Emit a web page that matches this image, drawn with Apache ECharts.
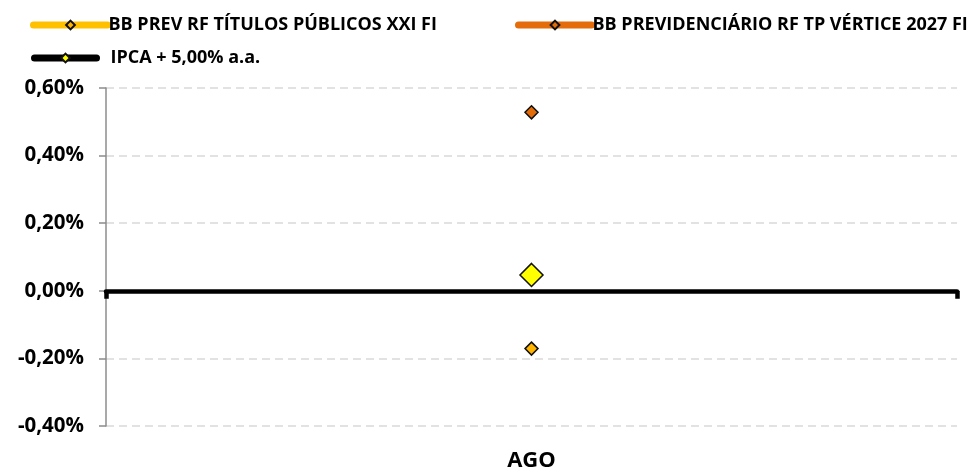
<!DOCTYPE html>
<html><head><meta charset="utf-8">
<script src="https://cdn.jsdelivr.net/npm/echarts@6/dist/echarts.min.js"></script>
<style>html,body{margin:0;padding:0;background:#fff}#c{width:976px;height:472px}</style>
</head><body><div id="c"></div>
<script>
const categories = ['AGO'];
const seriesNames = ['BB PREV RF TÍTULOS PÚBLICOS XXI FI', 'BB PREVIDENCIÁRIO RF TP VÉRTICE 2027 FI', 'IPCA + 5,00% a.a.'];
const fundXXI = [-0.171];
const fund2027 = [0.528];
const ipca = [0.047];
const yTicks = [-0.4, -0.2, 0, 0.2, 0.4, 0.6];

const FONT = '"Open Sans", "Noto Sans", sans-serif';
const chart = echarts.init(document.getElementById('c'));
function legendAt(name, left, top, w, padLeft) {
  return {
    data: [name], left: left, top: top, padding: 0, itemWidth: w, itemHeight: 11, itemGap: 0,
    selectedMode: false,
    textStyle: { fontFamily: FONT, fontWeight: 'bold', fontSize: 18, color: '#000', padding: [0, 0, 0, padLeft] },
    lineStyle: { width: 7, cap: 'round' }
  };
}
chart.setOption({
  animation: false,
  legend: [
    legendAt(seriesNames[0], 30, 16, 74, -4),
    legendAt(seriesNames[1], 515, 16, 73, -4),
    legendAt(seriesNames[2], 31, 49, 62, 9)
  ],
  grid: { left: 106, right: 19, top: 88, bottom: 45 },
  xAxis: [{
    type: 'category', data: categories, boundaryGap: true,
    axisLine: { show: true, onZero: true, lineStyle: { color: '#000', width: 4.5 } },
    axisTick: { show: true, length: 8, lineStyle: { color: '#000', width: 4.5 } },
    axisLabel: { show: false }, splitLine: { show: false }, z: 1
  }, {
    type: 'category', data: categories, position: 'bottom',
    axisLine: { show: false, onZero: false }, axisTick: { show: false },
    axisLabel: { show: true, margin: 24, fontFamily: FONT, fontWeight: 'bold', fontSize: 22, color: '#000' }
  }],
  yAxis: {
    type: 'value', min: yTicks[0], max: yTicks[yTicks.length - 1], interval: 0.2,
    axisLine: { show: true, lineStyle: { color: '#8c8c8c', width: 1.5 } },
    axisTick: { show: true, length: 7, lineStyle: { color: '#8c8c8c', width: 1.5 } },
    axisLabel: {
      margin: 22, fontFamily: FONT, fontWeight: 'bold', fontSize: 20.5, color: '#000',
      formatter: v => v.toFixed(2).replace('.', ',') + '%'
    },
    splitLine: { show: true, lineStyle: { color: '#d9d9d9', width: 1.5, type: [8, 5] } }
  },
  series: [{
    name: seriesNames[0], type: 'line', data: fundXXI, symbol: 'diamond', symbolSize: 13,
    lineStyle: { color: '#FFC000', width: 7 },
    itemStyle: { color: '#FFB400', borderColor: '#111', borderWidth: 1.5 }, z: 3
  }, {
    name: seriesNames[1], type: 'line', data: fund2027, symbol: 'diamond', symbolSize: 13,
    lineStyle: { color: '#E46C0A', width: 7 },
    itemStyle: { color: '#E36C09', borderColor: '#111', borderWidth: 1.5 }, z: 3
  }, {
    name: seriesNames[2], type: 'line', data: ipca, symbol: 'diamond', symbolSize: 23,
    lineStyle: { color: '#000', width: 7 },
    itemStyle: { color: '#FFFF00', borderColor: '#111', borderWidth: 1.5 }, z: 4
  }]
});
</script></body></html>
